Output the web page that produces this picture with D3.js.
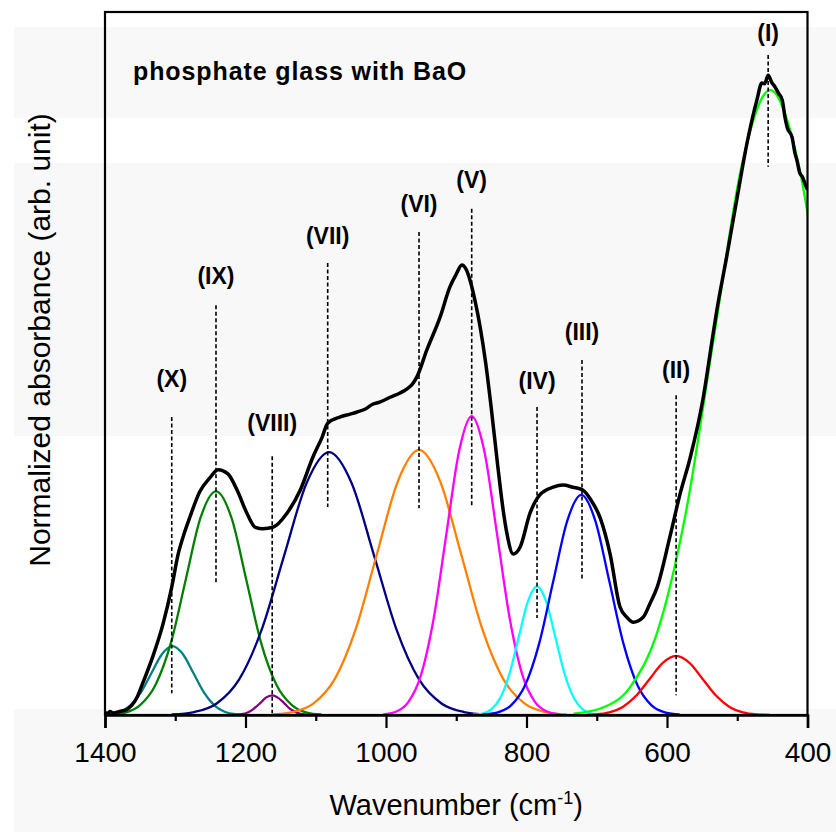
<!DOCTYPE html>
<html>
<head>
<meta charset="utf-8">
<script src="https://cdn.jsdelivr.net/npm/d3@7"></script>
<style>
  html, body { margin: 0; padding: 0; background: #ffffff; }
  svg { display: block; }
</style>
</head>
<body>
<svg id="chart" width="836" height="832"></svg>
<script>
// ---------------- DATA ----------------
const xTicksMajor = [1400, 1200, 1000, 800, 600, 400];
const xTicksMinor = [1300, 1100, 900, 700, 500];
const xTitle = "Wavenumber (cm";
const xTitleSup = "-1";
const yTitle = "Normalized absorbance (arb. unit)";
const chartTitle = "phosphate glass with BaO";

// measured spectrum [wavenumber, absorbance]
const spectrum = [
  [1400,0.004],[1397,0.002],[1393,0.005],[1389,0.003],[1379,0.005],[1369,0.008],
  [1354,0.026],[1346,0.046],[1332,0.083],[1317,0.131],[1305,0.182],[1296,0.228],
  [1286,0.262],[1279,0.282],[1265,0.318],[1251,0.337],[1239,0.349],[1225,0.343],[1212,0.320],
  [1198,0.287],[1186,0.267],[1175,0.265],[1161,0.267],[1141,0.287],[1122,0.320],
  [1104,0.367],[1091,0.395],[1083,0.415],[1065,0.424],[1051,0.428],[1041,0.431],
  [1030,0.435],[1019,0.442],[1009,0.445],[994,0.452],[980,0.458],[970,0.464],
  [963,0.470],[956,0.481],[942,0.519],[923,0.566],[909,0.609],[900,0.627],
  [892,0.640],[886,0.634],[880,0.617],[873,0.588],[866,0.552],[858,0.500],
  [850,0.435],[841,0.355],[833,0.290],[828,0.259],[819,0.229],[809,0.239],
  [795,0.287],[781,0.313],[762,0.324],
  [748,0.327],[734,0.324],[720,0.320],[709,0.307],[695,0.280],[681,0.229],
  [667,0.154],[657,0.139],[648,0.132],[634,0.139],[624,0.159],[614,0.182],
  [596,0.253],[581,0.316],[567,0.366],[549,0.448],[535,0.538],[529,0.576],
  [515,0.652],[500,0.737],[486,0.814],[472,0.875],[465,0.899],[461,0.898],
  [456,0.910],[451,0.900],[446,0.893],[441,0.884],[436,0.875],[432,0.850],
  [429,0.836],[422,0.822],[418,0.800],[415,0.789],[411,0.771],[407,0.765],
  [404,0.757],[400,0.747]
];

// fitted components [wavenumber, absorbance]
const bandX = [[1409,0.0002],[1394,0.0011],[1379,0.0043],[1364,0.0133],[1349,0.0318],[1334,0.0594],[1319,0.0865],[1304,0.098],[1289,0.0865],[1274,0.0594],[1259,0.0318],[1244,0.0133],[1229,0.0043],[1214,0.0011],[1199,0.0002]];
const bandIX = [[1392,0.0007],[1371,0.0035],[1350,0.0140],[1328,0.0430],[1306,0.1033],[1285,0.1929],[1264,0.2806],[1242,0.318],[1220,0.2806],[1199,0.1929],[1178,0.1033],[1156,0.0430],[1134,0.0140],[1113,0.0035],[1092,0.0007]];
const bandVIII = [[1222,0.0001],[1213,0.0003],[1205,0.0012],[1196,0.0038],[1188,0.0091],[1179,0.0170],[1171,0.0247],[1162,0.028],[1154,0.0247],[1145,0.0170],[1137,0.0091],[1128,0.0038],[1120,0.0012],[1111,0.0003],[1103,0.0001]];
const bandVII = [[1305,0.0008],[1273,0.0042],[1241,0.0164],[1209,0.0506],[1177,0.1214],[1145,0.2268],[1113,0.3301],[1081,0.374],[1049,0.3301],[1017,0.2268],[985,0.1214],[953,0.0506],[921,0.0164],[889,0.0042],[857,0.0008]];
const bandVI = [[1163,0.0008],[1133,0.0042],[1103,0.0166],[1073,0.0510],[1043,0.1224],[1013,0.2287],[983,0.3327],[953,0.377],[923,0.3327],[893,0.2287],[863,0.1224],[833,0.0510],[803,0.0166],[773,0.0042],[743,0.0008]];
const bandV = [[1004,0.0009],[986,0.0047],[968,0.0187],[950,0.0575],[932,0.1380],[914,0.2578],[896,0.3751],[878,0.425],[860,0.3751],[842,0.2578],[824,0.1380],[806,0.0575],[788,0.0187],[770,0.0047],[752,0.0009]];
const bandIV = [[876,0.0004],[863,0.0020],[850,0.0080],[837,0.0248],[824,0.0594],[811,0.1110],[798,0.1615],[785,0.183],[772,0.1615],[759,0.1110],[746,0.0594],[733,0.0248],[720,0.0080],[707,0.0020],[694,0.0004]];
const bandIII = [[862,0.0007],[842,0.0035],[822,0.0137],[802,0.0423],[782,0.1016],[762,0.1898],[742,0.2762],[722,0.313],[702,0.2762],[682,0.1898],[662,0.1016],[642,0.0423],[622,0.0137],[602,0.0035],[582,0.0007]];
const bandII = [[720,0.0002],[701,0.0009],[682,0.0037],[663,0.0114],[644,0.0273],[625,0.0509],[606,0.0741],[587,0.084],[568,0.0741],[549,0.0509],[530,0.0273],[511,0.0114],[492,0.0037],[473,0.0009],[454,0.0002]];
const bandI = [[733,0.0020],[693,0.0099],[653,0.0390],[613,0.1203],[573,0.2887],[533,0.5392],[493,0.7845],[453,0.889],[413,0.7845],[373,0.5392],[333,0.2887]];

const bandNames = ["X","IX","VIII","VII","VI","V","IV","III","II","I"];
const bandData = [bandX, bandIX, bandVIII, bandVII, bandVI, bandV, bandIV, bandIII, bandII, bandI];
const bandColors = ["#008080","#008000","#800080","#000080","#ff8000","#ff00ff","#00ffff","#0000ff","#ff0000","#00ff00"];

// peak markers: label, wavenumber, dashed top, dashed bottom, label baseline (absorbance units)
const peakLabels = ["(X)","(IX)","(VIII)","(VII)","(VI)","(V)","(IV)","(III)","(II)","(I)"];
const peakPos    = [1305, 1242, 1162, 1083, 953, 878, 785, 721, 587, 456];
const peakTop    = [0.424, 0.583, 0.368, 0.643, 0.687, 0.720, 0.438, 0.505, 0.455, 0.939];
const peakBottom = [0.031, 0.189, 0.003, 0.296, 0.294, 0.296, 0.138, 0.192, 0.028, 0.780];
const peakLabelY = [0.466, 0.613, 0.404, 0.670, 0.715, 0.750, 0.464, 0.533, 0.480, 0.959];

// ---------------- LAYOUT ----------------
const svg = d3.select("#chart");
const L = 105, R = 807.5, T = 12, B = 715;
const x = d3.scaleLinear().domain([1400, 400]).range([L, R]);
const y = d3.scaleLinear().domain([0, 1]).range([B, T]);

// background bands (light gray stripes)
const stripes = [[27, 118], [163, 436], [709, 832]];
svg.append("g").selectAll("rect").data(stripes).join("rect")
  .attr("x", 14).attr("width", 836 - 14)
  .attr("y", d => d[0]).attr("height", d => d[1] - d[0])
  .attr("fill", "#f8f8f8");

svg.append("defs").append("clipPath").attr("id", "plotclip")
  .append("rect").attr("x", L).attr("y", T).attr("width", R - L).attr("height", B - T);

const line = d3.line().x(d => x(d[0])).y(d => y(d[1])).curve(d3.curveMonotoneX);

const plot = svg.append("g").attr("clip-path", "url(#plotclip)");

plot.selectAll("path.band").data(bandData).join("path")
  .attr("class", "band")
  .attr("d", d => line(d))
  .attr("fill", "none")
  .attr("stroke", (d, i) => bandColors[i])
  .attr("stroke-width", 2.3);

plot.append("path")
  .attr("d", line(spectrum))
  .attr("fill", "none")
  .attr("stroke", "#000")
  .attr("stroke-width", 3.5)
  .attr("stroke-linejoin", "round");

// dashed peak markers
svg.append("g").selectAll("line").data(peakPos).join("line")
  .attr("x1", d => x(d)).attr("x2", d => x(d))
  .attr("y1", (d, i) => y(peakTop[i])).attr("y2", (d, i) => y(peakBottom[i]))
  .attr("stroke", "#000").attr("stroke-width", 1.6)
  .attr("stroke-dasharray", "4,2.5");

svg.append("g").selectAll("text").data(peakLabels).join("text")
  .attr("x", (d, i) => x(peakPos[i]))
  .attr("y", (d, i) => y(peakLabelY[i]))
  .attr("text-anchor", "middle")
  .attr("font-family", "Arial, 'Liberation Sans', sans-serif")
  .attr("font-weight", "bold")
  .attr("font-size", 23)
  .attr("fill", "#000")
  .text(d => d);

// frame
svg.append("rect")
  .attr("x", L).attr("y", T).attr("width", R - L).attr("height", B - T)
  .attr("fill", "none").attr("stroke", "#000").attr("stroke-width", 2.2);

// x axis
const axMajor = d3.axisBottom(x).tickValues(xTicksMajor).tickSize(13).tickPadding(14)
  .tickFormat(d3.format("d"));
const gMaj = svg.append("g").attr("transform", `translate(0,${B})`).call(axMajor);
gMaj.select(".domain").attr("stroke", "#000").attr("stroke-width", 2.6);
gMaj.selectAll(".tick line").attr("stroke", "#000").attr("stroke-width", 2.2);
gMaj.selectAll(".tick text")
  .attr("font-family", "Arial, 'Liberation Sans', sans-serif")
  .attr("font-size", 28).attr("fill", "#000");

const axMinor = d3.axisBottom(x).tickValues(xTicksMinor).tickSize(6).tickFormat("");
const gMin = svg.append("g").attr("transform", `translate(0,${B})`).call(axMinor);
gMin.select(".domain").remove();
gMin.selectAll(".tick line").attr("stroke", "#000").attr("stroke-width", 2.2);

// axis titles
const xt = svg.append("text")
  .attr("x", (L + R) / 2).attr("y", 815)
  .attr("text-anchor", "middle")
  .attr("font-family", "Arial, 'Liberation Sans', sans-serif")
  .attr("font-size", 29).attr("fill", "#000");
xt.append("tspan").text(xTitle);
xt.append("tspan").attr("dy", -11).attr("font-size", 18).text(xTitleSup);
xt.append("tspan").attr("dy", 11).text(")");

svg.append("text")
  .attr("transform", "translate(50,340) rotate(-90)")
  .attr("text-anchor", "middle")
  .attr("font-family", "Arial, 'Liberation Sans', sans-serif")
  .attr("font-size", 30).attr("fill", "#000")
  .text(yTitle);

svg.append("text")
  .attr("x", 133).attr("y", 80)
  .attr("font-family", "Arial, 'Liberation Sans', sans-serif")
  .attr("font-weight", "bold")
  .attr("font-size", 25)
  .attr("letter-spacing", 0.9)
  .attr("fill", "#000")
  .text(chartTitle);
</script>
</body>
</html>
